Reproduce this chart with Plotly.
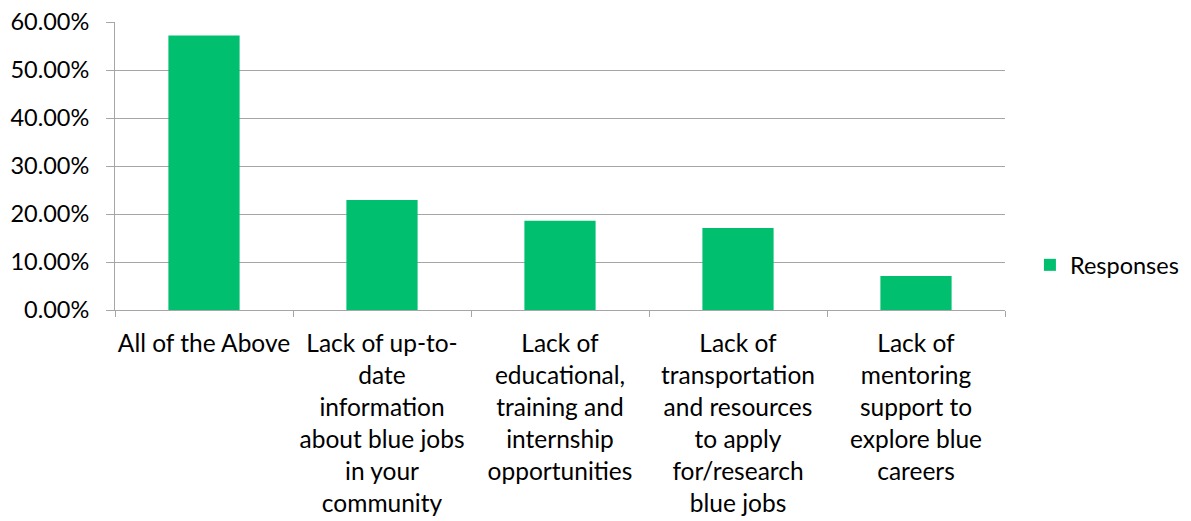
import plotly.graph_objects as go

categories = [
    "All of the Above",
    "Lack of up-to-<br>date<br>information<br>about blue jobs<br>in your<br>community",
    "Lack of<br>educational,<br>training and<br>internship<br>opportunities",
    "Lack of<br>transportation<br>and resources<br>to apply<br>for/research<br>blue jobs",
    "Lack of<br>mentoring<br>support to<br>explore blue<br>careers",
]
values = [0.572, 0.229, 0.186, 0.171, 0.071]
series_name = "Responses"
y_ticks = [0, 0.1, 0.2, 0.3, 0.4, 0.5, 0.6]

FONT = "Lato, Carlito, Calibri, sans-serif"

fig = go.Figure()
fig.add_trace(go.Bar(
    x=categories, y=values, name=series_name,
    marker=dict(color="#00BF6F", line=dict(width=0)),
    showlegend=True,
))

fig.update_layout(
    width=1191, height=521,
    margin=dict(l=115, r=186, t=22, b=211, autoexpand=False),
    paper_bgcolor="white", plot_bgcolor="white",
    font=dict(family=FONT, size=23.5, color="#000000"),
    bargap=0.6,
    showlegend=True,
    legend=dict(x=1.028, y=0.156, xanchor="left", yanchor="middle",
                font=dict(size=23.5), itemwidth=30, bgcolor="rgba(0,0,0,0)"),
)
fig.update_yaxes(
    range=[0, 0.6], tickvals=y_ticks, tickformat=".2%",
    showgrid=True, gridcolor="#A6A6A6", gridwidth=1,
    showline=True, linecolor="#A6A6A6", linewidth=1,
    ticks="outside", ticklen=8, tickcolor="#A6A6A6",
    zeroline=False, ticklabelstandoff=12, automargin=False,
)
fig.update_xaxes(
    showline=True, linecolor="#A6A6A6", linewidth=1,
    ticks="outside", ticklen=6, tickcolor="#A6A6A6",
    tickson="boundaries", showgrid=False, tickangle=0,
    tickfont=dict(size=24.5), ticklabelstandoff=12,
    mirror=False, automargin=False,
)
fig.write_html(
    "out.html",
    config={"displayModeBar": False},
    post_script="document.body.style.margin='0';document.body.style.overflow='hidden';",
)
